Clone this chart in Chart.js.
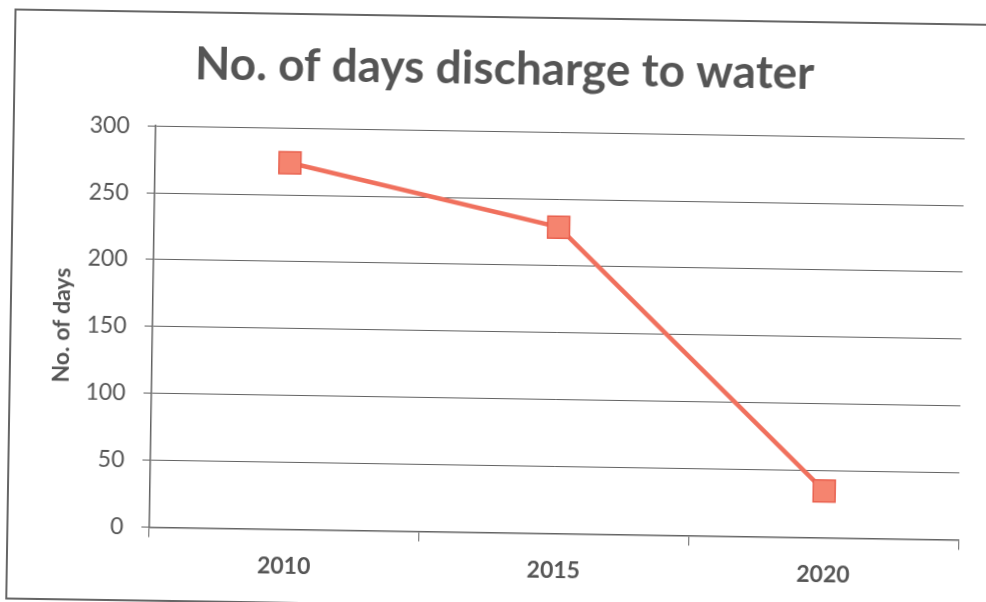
<!DOCTYPE html>
<html>
<head>
<meta charset="utf-8">
<script src="https://cdn.jsdelivr.net/npm/chart.js@4.4.1/dist/chart.umd.min.js"></script>
<style>
  html, body { margin: 0; padding: 0; background: #ffffff; overflow: hidden; }
  #stage {
    position: relative; width: 986px; height: 602px;
    transform: rotate(0.9deg); transform-origin: 493px 301px;
  }
  #frame {
    position: absolute; left: 10px; top: 16px; width: 1100px; height: 587px;
    border: 2px solid #666666;
  }
  canvas { position: absolute; left: 0; top: 0; }
</style>
</head>
<body>
<div id="stage">
  <div id="frame"></div>
  <canvas id="chart" width="986" height="602"></canvas>
</div>
<script>
// Discharge days per reporting year
const years = ['2010', '2015', '2020'];
const daysDischarged = [274, 229, 35];
const yMin = 0;
const yMax = 300;
const yStep = 50;

const textGrey = '#555555';
const lineGrey = '#636363';
const family = 'Lato, "Open Sans", sans-serif';

new Chart(document.getElementById('chart'), {
  type: 'line',
  data: {
    labels: years,
    datasets: [{
      label: 'No. of days',
      data: daysDischarged,
      borderColor: '#f0705d',
      borderWidth: 4.5,
      tension: 0,
      pointStyle: 'rect',
      pointRadius: 15.5,
      pointBackgroundColor: '#f5846f',
      pointBorderColor: '#e9614f',
      pointBorderWidth: 1.5
    }]
  },
  options: {
    responsive: false,
    animation: false,
    devicePixelRatio: 1,
    layout: { padding: { left: 40, right: 24, top: 0, bottom: 0 } },
    plugins: {
      legend: { display: false },
      tooltip: { enabled: false },
      title: {
        display: true,
        text: 'No. of days discharge to water',
        color: textGrey,
        font: { family, size: 46, weight: 'bold', lineHeight: 1.2 },
        padding: { top: 42, bottom: 34 }
      }
    },
    scales: {
      x: {
        offset: true,
        afterFit(scale) { scale.height = 69.5; },
        grid: {
          offset: true,
          drawOnChartArea: false,
          drawTicks: true,
          tickLength: 10,
          color: lineGrey,
          lineWidth: 1
        },
        border: { display: true, color: lineGrey, width: 1.5 },
        ticks: {
          color: textGrey,
          padding: 13,
          font: { family, size: 23, weight: 'bold' }
        }
      },
      y: {
        min: yMin,
        max: yMax,
        afterFit(scale) { scale.width = 113; },
        grid: {
          drawOnChartArea: true,
          drawTicks: true,
          tickLength: 8,
          color: lineGrey,
          lineWidth: 1
        },
        border: { display: true, color: lineGrey, width: 1.5 },
        ticks: {
          stepSize: yStep,
          color: textGrey,
          padding: 18,
          font: { family, size: 23 }
        },
        title: {
          display: true,
          text: 'No. of days',
          color: textGrey,
          font: { family, size: 23, weight: 'bold', lineHeight: 1.2 },
          padding: { top: 9, bottom: 0 }
        }
      }
    }
  }
});
</script>
</body>
</html>
